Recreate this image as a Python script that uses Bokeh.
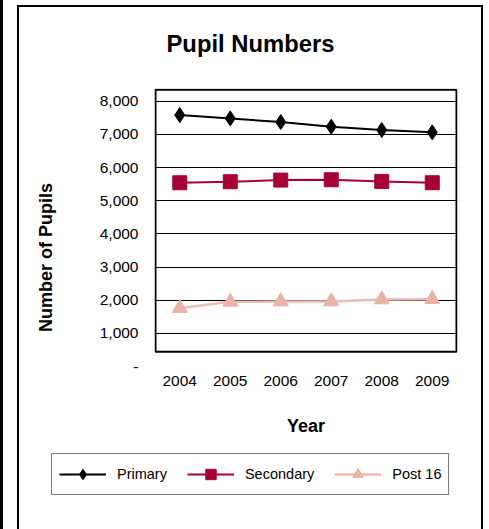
from bokeh.plotting import figure
from bokeh.layouts import column
from bokeh.models import (FactorRange, Range1d, FixedTicker, NumeralTickFormatter,
                          Legend, LegendItem, BoxAnnotation)
from bokeh.embed import file_html
from bokeh.resources import INLINE

years = ["2004", "2005", "2006", "2007", "2008", "2009"]
primary = [7580, 7480, 7370, 7230, 7130, 7060]
secondary = [5540, 5570, 5620, 5630, 5580, 5540]
post16 = [1760, 1950, 1960, 1960, 2020, 2030]
y_ticks = [0, 1000, 2000, 3000, 4000, 5000, 6000, 7000, 8000]
grid_ticks = [1000, 2000, 3000, 4000, 5000, 6000, 7000, 8000]
zero_label = {0: "-"}
series_names = ["Primary", "Secondary", "Post 16"]

FONT = "Liberation Sans"
W = 462
H1 = 454
H2 = 82

C_PRI, C_SEC, C_P16, C_P16M = "black", "#a60036", "#ecbcb1", "#e9b3a6"

p = figure(width=W, height=H1, x_range=FactorRange(*years), y_range=Range1d(0, 8382),
           output_backend="svg", toolbar_location=None,
           min_border_left=135, min_border_right=24,
           min_border_top=95, min_border_bottom=81)
p.frame_align = False
p.styles = {"margin-top": "-14px"}
p.background_fill_color = "white"
p.border_fill_alpha = 0
p.outline_line_color = None

p.title.text = "Pupil Numbers"
p.title.text_font = FONT
p.title.text_font_size = "23.8px"
p.title.text_font_style = "bold"
p.title.text_color = "black"
p.title.align = "left"
p.title.offset = 12
p.title.standoff = 64

# axes
p.yaxis.ticker = FixedTicker(ticks=y_ticks)
p.yaxis.formatter = NumeralTickFormatter(format="0,0")
p.yaxis.major_label_overrides = zero_label
for ax in (p.xaxis, p.yaxis):
    ax.axis_line_color = None
    ax.major_tick_line_color = None
    ax.minor_tick_line_color = None
    ax.major_tick_out = 0
    ax.major_tick_in = 0
    ax.major_label_text_font = FONT
    ax.major_label_text_font_size = "15.5px"
    ax.major_label_text_color = "black"
    ax.axis_label_text_font = FONT
    ax.axis_label_text_font_size = "18px"
    ax.axis_label_text_font_style = "bold"
    ax.axis_label_text_color = "black"
# trailing no-break spaces move the visible title toward the lower part of the axis, as in Excel
p.yaxis.axis_label = "Number of Pupils" + "\u00a0" * 12
p.yaxis.major_label_standoff = 16
p.yaxis.axis_label_standoff = 41
p.xaxis.axis_label = "Year"
p.xaxis.major_label_standoff = 9
p.xaxis.axis_label_standoff = 27

p.ygrid.ticker = FixedTicker(ticks=grid_ticks)
p.ygrid.grid_line_color = "black"
p.ygrid.grid_line_width = 1
p.xgrid.grid_line_color = None

# plot-area box
p.add_layout(BoxAnnotation(left=0.02, right=5.98, bottom=445, top=8343,
                           fill_alpha=0, line_color="black", line_alpha=1,
                           line_width=2, level="underlay"))

# series
p.line(years, primary, line_color=C_PRI, line_width=2)
p.scatter(years, primary, marker="diamond", size=15, fill_color=C_PRI, line_color=C_PRI)
p.line(years, secondary, line_color=C_SEC, line_width=2)
p.scatter(years, secondary, marker="square", size=14, fill_color=C_SEC, line_color=C_SEC)
p.line(years, post16, line_color=C_P16, line_width=2.5)
p.scatter(years, post16, marker="triangle", size=15, fill_color=C_P16M, line_color=C_P16M)

# legend strip: same series/styles, drawn outside its visible range so only the legend shows
q = figure(width=W, height=H2, x_range=FactorRange(*years), y_range=Range1d(-20000, -10000),
           x_axis_type=None, y_axis_type=None,
           output_backend="svg", toolbar_location=None, min_border=0)
q.frame_align = False
q.background_fill_alpha = 0
q.border_fill_alpha = 0
q.outline_line_color = None
q.xgrid.visible = False
q.ygrid.visible = False
ql1 = q.line(years, primary, line_color=C_PRI, line_width=2)
qs1 = q.scatter(years, primary, marker="diamond", size=15, fill_color=C_PRI, line_color=C_PRI)
ql2 = q.line(years, secondary, line_color=C_SEC, line_width=2)
qs2 = q.scatter(years, secondary, marker="square", size=14, fill_color=C_SEC, line_color=C_SEC)
ql3 = q.line(years, post16, line_color=C_P16, line_width=2.5)
qs3 = q.scatter(years, post16, marker="triangle", size=15, fill_color=C_P16M, line_color=C_P16M)
legend = Legend(items=[LegendItem(label=series_names[0], renderers=[ql1, qs1]),
                       LegendItem(label=series_names[1], renderers=[ql2, qs2]),
                       LegendItem(label=series_names[2], renderers=[ql3, qs3])],
                orientation="horizontal", location=(32, 34), margin=0,
                padding=7, spacing=20, glyph_width=47, glyph_height=26, label_standoff=11,
                label_text_font=FONT, label_text_font_size="14.5px", label_text_color="black",
                border_line_color="black", border_line_width=1,
                background_fill_color="white", background_fill_alpha=1)
q.add_layout(legend)

page = column(p, q, spacing=0)
page.styles = {"margin-left": "17px", "margin-top": "5px",
               "border": "2px solid black", "border-bottom": "none",
               "box-shadow": "-9px 0 0 5px white, -17px 0 0 5px black"}

open("out.html", "w").write(file_html(page, INLINE))
